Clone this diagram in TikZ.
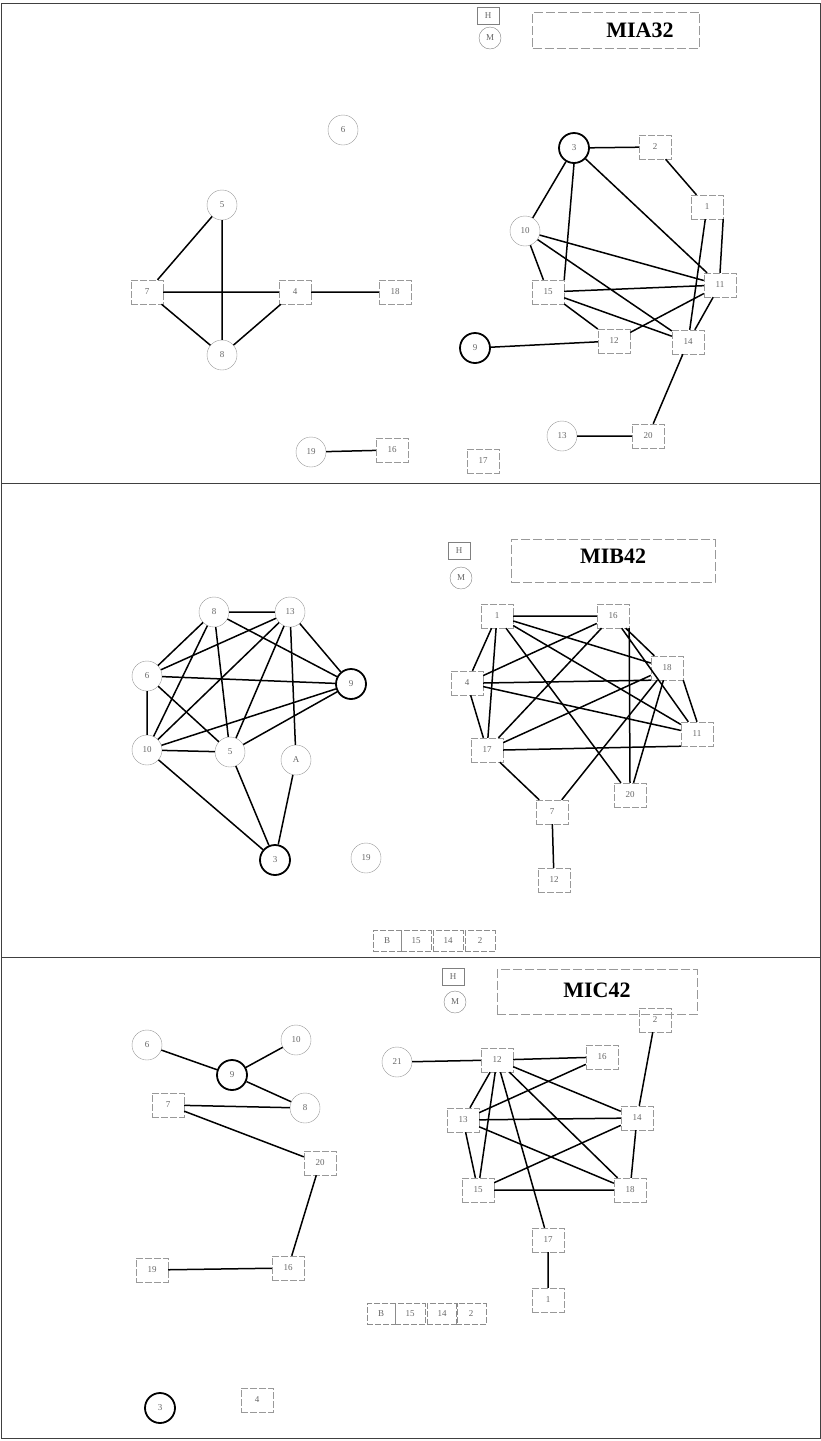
\documentclass[tikz,border=0pt]{standalone}
\usepackage{fontspec}
\setmainfont{Liberation Serif}
\begin{document}
\begin{tikzpicture}[x=1pt,y=-1pt,every node/.style={font=\fontsize{9}{9}\selectfont,text=black!60},
  circ/.style={circle,draw=black!40,minimum size=30pt,inner sep=0pt},
  boxn/.style={rectangle,draw=black!40,dash pattern=on 7pt off 2pt,minimum width=32pt,minimum height=24pt,inner sep=0pt},
  hub/.style={circle,draw=black,line width=1.8pt,minimum size=30pt,inner sep=0pt},
  link/.style={line width=1.5pt},
  keybox/.style={rectangle,draw=black!50,minimum width=22pt,minimum height=17pt,inner sep=0pt},
  keycirc/.style={circle,draw=black!50,minimum size=22pt,inner sep=0pt},
  titlebox/.style={rectangle,draw=black!40,dash pattern=on 9pt off 3pt,inner sep=0pt},
  titletext/.style={font=\fontsize{22}{22}\selectfont\bfseries,text=black},
  slot/.style={rectangle,draw=black!45,dash pattern=on 6pt off 2pt,minimum width=30pt,minimum height=21pt,inner sep=0pt}]
\useasboundingbox (0,0) rectangle (821,1441);
% frame
\draw[black!75,line width=1pt] (1,3) rectangle (820,1438);
\draw[black!75,line width=1pt] (1,483) -- (820,483);
\draw[black!75,line width=1pt] (1,957) -- (820,957);

% ---- panel A
\node[keybox] (aH) at (488,16) {H};
\node[keycirc] (aM) at (490,38) {M};
\node[titlebox,minimum width=167pt,minimum height=36pt] (atitle) at (616,30) {};
\node[titletext] (aname) at (640,30) {MIA32};
\node[circ] (a6) at (343,130) {6};
\node[circ] (a5) at (222,205) {5};
\node[boxn] (a7) at (147,292) {7};
\node[boxn] (a4) at (295,292) {4};
\node[boxn] (a18) at (395,292) {18};
\node[circ] (a8) at (222,355) {8};
\node[circ] (a19) at (311,452) {19};
\node[boxn] (a16) at (392,450) {16};
\node[boxn] (a17) at (483,461) {17};
\node[hub] (a3) at (574,148) {3};
\node[boxn] (a2) at (655,147) {2};
\node[boxn] (a1) at (707,207) {1};
\node[circ] (a10) at (525,231) {10};
\node[boxn] (a15) at (548,292) {15};
\node[boxn] (a11) at (720,285) {11};
\node[boxn] (a12) at (614,341) {12};
\node[boxn] (a14) at (688,342) {14};
\node[hub] (a9) at (475,348) {9};
\node[circ] (a13) at (562,436) {13};
\node[boxn] (a20) at (648,436) {20};
\draw[link] (a5) -- (a7) (a5) -- (a8) (a7) -- (a4) (a7) -- (a8) (a8) -- (a4) (a4) -- (a18) (a19) -- (a16);
\draw[link] (a3) -- (a2) (a3) -- (a10) (a3.south) -- (a15.north east) (a3) -- (a11) (a2) -- (a1) (a1.south east) -- (a11.north) (a1) -- (a14);
\draw[link] (a10) -- (a11) (a10) -- (a14) (a10) -- (a15) (a15) -- (a11) (a15) -- (a14) (a15) -- (a12);
\draw[link] (a12) -- (a11) (a11) -- (a14) (a9) -- (a12) (a14) -- (a20) (a13) -- (a20);

% ---- panel B
\node[keybox] (bH) at (459,551) {H};
\node[keycirc] (bM) at (461,578) {M};
\node[titlebox,minimum width=204pt,minimum height=43pt] (btitle) at (613,561) {};
\node[titletext] (bname) at (613,556) {MIB42};
\node[circ] (b8) at (214,612) {8};
\node[circ] (b13) at (290,612) {13};
\node[circ] (b6) at (147,676) {6};
\node[hub] (b9) at (351,684) {9};
\node[circ] (b10) at (147,750) {10};
\node[circ] (b5) at (230,752) {5};
\node[circ] (bA) at (296,760) {A};
\node[hub] (b3) at (275,860) {3};
\node[circ] (b19) at (366,858) {19};
\draw[link] (b8) -- (b13) (b8) -- (b6) (b8) -- (b10) (b8) -- (b5) (b8) -- (b9);
\draw[link] (b13) -- (b6) (b13) -- (b10) (b13) -- (b5) (b13) -- (bA) (b13) -- (b9);
\draw[link] (b6) -- (b9) (b6) -- (b10) (b6) -- (b5) (b10) -- (b9) (b5) -- (b9);
\draw[link] (b10) -- (b5) (b10) -- (b3) (b5) -- (b3) (bA) -- (b3);
\node[boxn] (b1) at (497,616) {1};
\node[boxn] (b16) at (613,616) {16};
\node[boxn] (b18) at (667,668) {18};
\node[boxn] (b4) at (467,683) {4};
\node[boxn] (b11) at (697,734) {11};
\node[boxn] (b17) at (487,750) {17};
\node[boxn] (b20) at (630,795) {20};
\node[boxn] (b7) at (552,812) {7};
\node[boxn] (b12) at (554,880) {12};
\draw[link] (b1) -- (b16) (b1) -- (b4) (b1) -- (b17) (b1) -- (b20) (b1) -- (b11) (b1) -- (b18);
\draw[link] (b16) -- (b4) (b16) -- (b17) (b16) -- (b18) (b16.south east) -- (b20.north) (b16) -- (b11);
\draw[link] (b18.south west) -- (b4.east) (b18) -- (b17) (b18) -- (b7) (b18) -- (b20) (b18.south east) -- (b11.north);
\draw[link] (b4) -- (b11) (b4) -- (b17) (b17.east) -- (b11.south west) (b17) -- (b7) (b7) -- (b12);
\node[slot,minimum width=28pt] (bB) at (387,941) {B};
\node[slot] (b15) at (416,941) {15};
\node[slot] (b14) at (448,941) {14};
\node[slot] (b2) at (480,941) {2};

% ---- panel C
\node[keybox] (cH) at (453,977) {H};
\node[keycirc] (cM) at (455,1002) {M};
\node[titlebox,minimum width=200pt,minimum height=45pt] (ctitle) at (597,992) {};
\node[titletext] (cname) at (597,990) {MIC42};
\node[circ] (c6) at (147,1045) {6};
\node[circ] (c10) at (296,1040) {10};
\node[hub] (c9) at (232,1075) {9};
\node[boxn] (c7) at (168,1105) {7};
\node[circ] (c8) at (305,1108) {8};
\node[boxn] (c20) at (320,1163) {20};
\node[boxn] (c16) at (288,1268) {16};
\node[boxn] (c19) at (152,1270) {19};
\node[hub] (c3) at (160,1408) {3};
\node[boxn] (c4) at (257,1400) {4};
\draw[link] (c6) -- (c9) (c10) -- (c9) (c9) -- (c8) (c7) -- (c8) (c7) -- (c20) (c20) -- (c16) (c19) -- (c16);
\node[circ] (c21) at (397,1062) {21};
\node[boxn] (c12) at (497,1060) {12};
\node[boxn] (c16r) at (602,1057) {16};
\node[boxn] (c2) at (655,1020) {2};
\node[boxn] (c13) at (463,1120) {13};
\node[boxn] (c14) at (637,1118) {14};
\node[boxn] (c15) at (478,1190) {15};
\node[boxn] (c18) at (630,1190) {18};
\node[boxn] (c17) at (548,1240) {17};
\node[boxn] (c1) at (548,1300) {1};
\draw[link] (c21) -- (c12) (c12) -- (c16r) (c12) -- (c13) (c12) -- (c15) (c12) -- (c17) (c12) -- (c14) (c12) -- (c18);
\draw[link] (c16r) -- (c13) (c13) -- (c14) (c13) -- (c18) (c13) -- (c15) (c15) -- (c14);
\draw[link] (c14) -- (c18) (c15) -- (c18) (c2) -- (c14) (c17) -- (c1);
\node[slot,minimum width=28pt] (cB) at (381,1314) {B};
\node[slot] (c15s) at (410,1314) {15};
\node[slot] (c14s) at (442,1314) {14};
\node[slot] (c2s) at (471,1314) {2};
\end{tikzpicture}
\end{document}
